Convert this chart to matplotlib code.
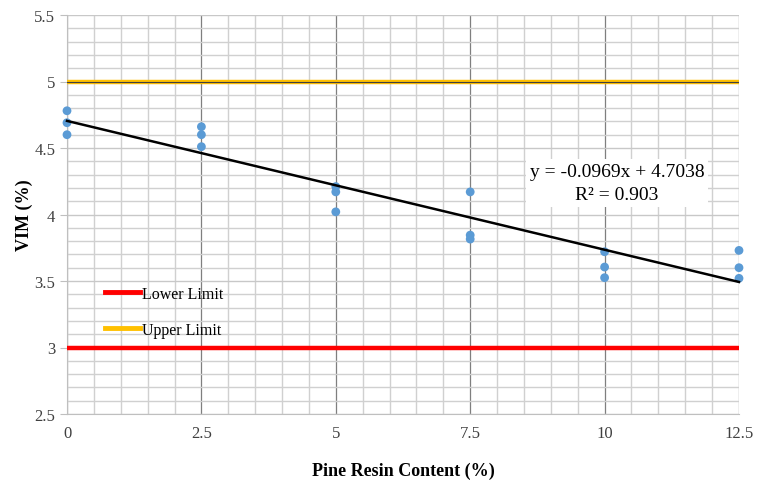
import numpy as np
import matplotlib
matplotlib.use('Agg')
import matplotlib.pyplot as plt
from matplotlib.ticker import MultipleLocator

# Pine resin content (%) and measured VIM (%)
resin = [0, 0, 0, 2.5, 2.5, 2.5, 5, 5, 5, 7.5, 7.5, 7.5, 10, 10, 10, 12.5, 12.5, 12.5]
vim = [4.78, 4.69, 4.60, 4.66, 4.60, 4.51, 4.21, 4.17, 4.02,
       4.17, 3.845, 3.815, 3.72, 3.605, 3.525, 3.73, 3.60, 3.52]

LOWER_LIMIT = 3.0
UPPER_LIMIT = 5.0
x_ticks = [0, 2.5, 5, 7.5, 10, 12.5]
x_tick_labels = ["0", "2.5", "5", "7.5", "10", "12.5"]

plt.rcParams['font.family'] = ['Liberation Serif', 'DejaVu Serif']

fig = plt.figure(figsize=(7.58, 4.85), dpi=100)
ax = fig.add_axes([67 / 758, 1 - 415 / 485, 672 / 758, 399 / 485])

ax.set_xlim(0, 12.5)
ax.set_ylim(2.5, 5.5)

# grid
ax.xaxis.set_minor_locator(MultipleLocator(0.5))
ax.yaxis.set_minor_locator(MultipleLocator(0.1))
ax.set_xticks(x_ticks)
ax.set_xticklabels(x_tick_labels)
ax.set_yticks(np.arange(2.5, 5.51, 0.5))
ax.set_yticklabels(["2.5", "3", "3.5", "4", "4.5", "5", "5.5"])
ax.grid(which='minor', color='#d0d0d0', lw=1.0)
ax.grid(which='major', axis='y', color='#c8c8c8', lw=1.0)
ax.grid(which='major', axis='x', color='#7f7f7f', lw=0.9)
ax.set_axisbelow(True)

for s in ['top', 'right']:
    ax.spines[s].set_visible(False)
ax.spines['left'].set_color('#bfbfbf')
ax.spines['bottom'].set_color('#bfbfbf')
ax.tick_params(axis='x', which='both', length=0, pad=8, labelsize=12, colors='#404040')
ax.tick_params(axis='y', which='major', length=5, color='#bfbfbf', labelsize=12, labelcolor='#404040')
ax.tick_params(axis='y', which='minor', length=0)

# limit lines
ax.axhline(LOWER_LIMIT, color='#ff0000', lw=3.2, zorder=3)
ax.axhline(UPPER_LIMIT, color='#ffc000', lw=3.2, zorder=3)
ax.axhline(UPPER_LIMIT, color='#404040', lw=0.8, zorder=3)

# data points
ax.scatter(resin, vim, s=40, color='#5b9bd5', zorder=4, edgecolors='none', clip_on=False)

# linear trend
slope, intercept = np.polyfit(resin, vim, 1)
pred = np.polyval([slope, intercept], resin)
r2 = 1 - np.sum((np.array(vim) - pred) ** 2) / np.sum((np.array(vim) - np.mean(vim)) ** 2)
xs = np.array([0, 12.5])
ax.plot(xs, slope * xs + intercept, color='black', lw=1.8, zorder=5, clip_on=False)

ax.text(10.23, 4.235, f"y = {slope:.4f}x + {intercept:.4f}\nR\u00b2 = {r2:.3f}",
        ha='center', va='center', fontsize=14, linespacing=1.45, zorder=6,
        bbox=dict(facecolor='white', edgecolor='none', pad=3))

# legend
ax.legend(handles=[plt.Line2D([], [], color='#ff0000', lw=3.5),
                   plt.Line2D([], [], color='#ffc000', lw=3.5)],
          labels=['Lower Limit', 'Upper Limit'],
          loc='upper left', bbox_to_anchor=(0.035, 0.357), frameon=False,
          fontsize=11.5, handlelength=2.2, handletextpad=0.1, labelspacing=1.25)

ax.set_ylabel("VIM (%)", fontsize=13, fontweight='bold', labelpad=1)
ax.set_xlabel("Pine Resin Content (%)", fontsize=13, fontweight='bold', labelpad=15)

fig.savefig("out.png", dpi=100)
